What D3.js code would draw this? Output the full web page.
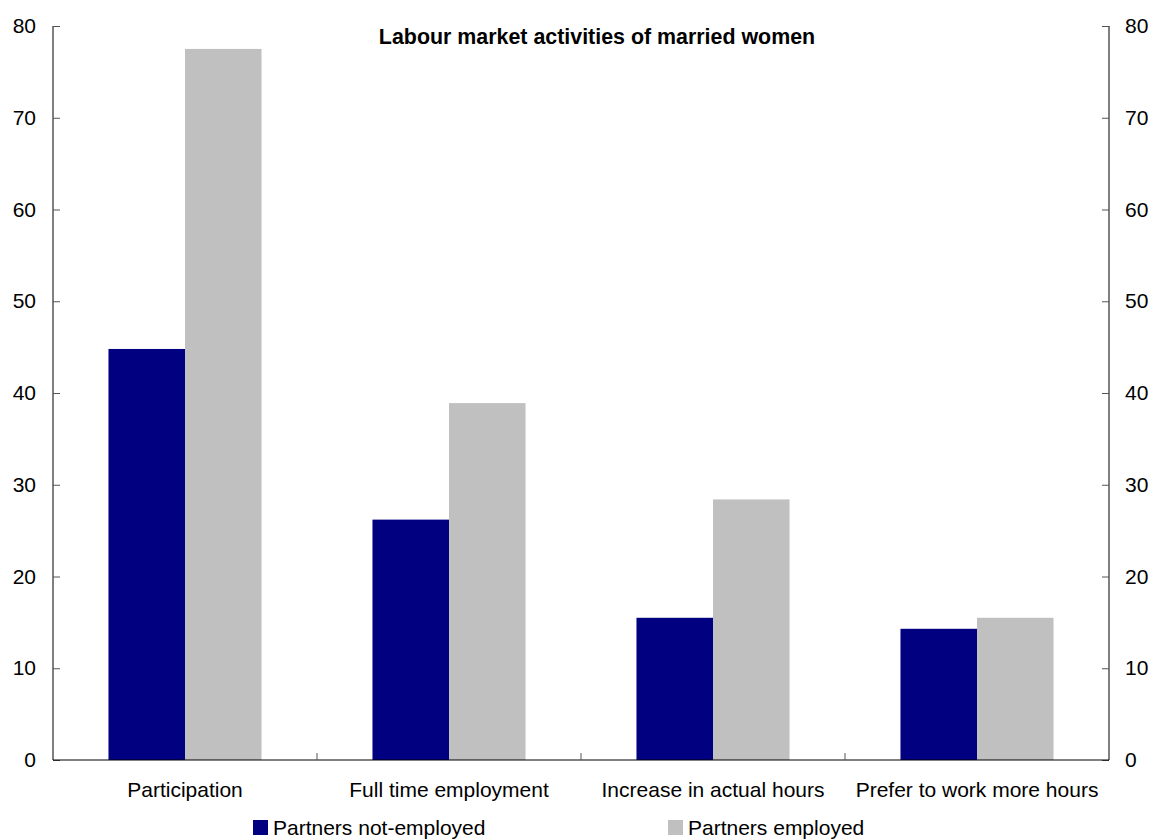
<!DOCTYPE html>
<html><head><meta charset="utf-8">
<script src="https://cdn.jsdelivr.net/npm/d3@7"></script>
<style>body{margin:0;background:#fff}svg text{font-family:"Liberation Sans",Arial,sans-serif}</style>
</head><body><svg id="c" width="1153" height="840"></svg>
<script>
const categories = ["Participation","Full time employment","Increase in actual hours","Prefer to work more hours"];
const seriesNames = ["Partners not-employed","Partners employed"];
const notEmployed = [44.8, 26.2, 15.5, 14.3];
const employed = [77.5, 38.9, 28.4, 15.5];
const yTicks = [0,10,20,30,40,50,60,70,80];
const colors = ["#000080","#c0c0c0"];

const svg = d3.select("#c");
const L=53, R=1109, T=26, B=760;
const FS = 21;
const x = d3.scaleBand().domain(categories).range([L,R]).paddingInner(0).paddingOuter(0);
const xs = d3.scaleBand().domain([0,1]).range([0,x.bandwidth()]).paddingInner(0).paddingOuter(0.725);
const y = d3.scaleLinear().domain([0,80]).range([B,T]);

const data = categories.map((c,i)=>({c, v:[notEmployed[i], employed[i]]}));
const g = svg.append("g");
data.forEach(d=>{
  d.v.forEach((v,j)=>{
    g.append("rect").attr("x", x(d.c)+xs(j)).attr("width", xs.bandwidth())
      .attr("y", y(v)).attr("height", y(0)-y(v)).attr("fill", colors[j]);
  });
});

// axes
const left = d3.axisLeft(y).tickValues(yTicks).tickSize(-7).tickPadding(17);
const la = svg.append("g").attr("transform",`translate(${L},0)`).call(left);
const right = d3.axisRight(y).tickValues(yTicks).tickSize(-7).tickPadding(16);
const ra = svg.append("g").attr("transform",`translate(${R},0)`).call(right);
[la,ra].forEach(a=>{
  a.select(".domain").attr("stroke","#000").attr("d", `M0,${T}V${B}`);
  a.selectAll(".tick line").attr("stroke","#555");
  a.selectAll("text").attr("font-size",FS).attr("fill","#000").style("font-family","Liberation Sans, Arial, sans-serif");
});

// baseline
svg.append("line").attr("x1",L).attr("x2",R).attr("y1",B).attr("y2",B).attr("stroke","#000");
const bottom = d3.axisBottom(x).tickSize(0).tickPadding(22);
const ba = svg.append("g").attr("transform",`translate(0,${B})`).call(bottom);
ba.select(".domain").remove();
ba.selectAll("text").attr("font-size",FS).attr("fill","#000").style("font-family","Liberation Sans, Arial, sans-serif");
// separators
svg.selectAll(".sep").data(categories.slice(1)).enter().append("line")
  .attr("x1",d=>x(d)).attr("x2",d=>x(d)).attr("y1",B).attr("y2",B-7).attr("stroke","#555");

// title
svg.append("text").attr("x",597).attr("y",44).attr("text-anchor","middle")
  .attr("font-size",21.4).attr("font-weight","bold").text("Labour market activities of married women");

// legend
const legX = [253, 668];
seriesNames.forEach((n,i)=>{
  svg.append("rect").attr("x",legX[i]).attr("y",820).attr("width",15).attr("height",15).attr("fill",colors[i]);
  svg.append("text").attr("x",legX[i]+20).attr("y",835).attr("font-size",FS).text(n);
});
</script></body></html>
